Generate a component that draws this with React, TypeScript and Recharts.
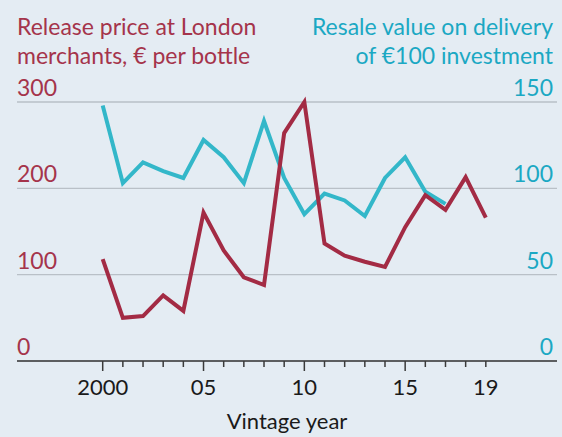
import React from 'react'
import { LineChart, Line, XAxis, YAxis, CartesianGrid } from 'recharts'

// vintage years 2000-2019
const years = [2000, 2001, 2002, 2003, 2004, 2005, 2006, 2007, 2008, 2009, 2010, 2011, 2012, 2013, 2014, 2015, 2016, 2017, 2018, 2019]
// release price at London merchants, € per bottle
const releasePrice = [118, 50, 52, 76, 58, 172, 128, 97, 88, 264, 300, 136, 122, 115, 109, 155, 192, 175, 213, 166]
// resale value on delivery of €100 investment (no data after 2017)
const resaleValue = [148, 103, 115, 110, 106, 128, 118, 103, 139, 106, 85, 97, 93, 84, 106, 118, 98, 91]

const leftTicks = [0, 100, 200, 300]
const rightTicks = [0, 50, 100, 150]
const majorYears = [2000, 2005, 2010, 2015]
const labelledYears: Record<number, string> = { 2000: '2000', 2005: '05', 2010: '10', 2015: '15', 2019: '19' }

const RED = '#a32b44'
const RED_TEXT = '#a5344b'
const BLUE = '#33b7c9'
const BLUE_TEXT = '#1ba8c3'
const BG = '#e4ecf3'
const FONT = 'Lato, "Open Sans", sans-serif'

const data = years.map((year, i) => ({
  year,
  price: releasePrice[i],
  resale: i < resaleValue.length ? resaleValue[i] : null,
}))

const LeftTick = ({ x, y, payload }: any) => (
  <text x={x} y={y - 6} textAnchor="start" fill={RED_TEXT} fontSize={23} fontFamily={FONT}>
    {payload.value}
  </text>
)

const RightTick = ({ x, y, payload }: any) => (
  <text x={x - 4} y={y - 6} textAnchor="end" fill={BLUE_TEXT} fontSize={23} fontFamily={FONT}>
    {payload.value}
  </text>
)

const YearTick = ({ x, y, payload }: any) => {
  const major = majorYears.includes(payload.value)
  const label = labelledYears[payload.value]
  return (
    <g>
      <line x1={x} x2={x} y1={y} y2={y + (major ? 10 : 6)} stroke="#3a3a3a" strokeWidth={1.5} />
      {label && (
        <text x={x} y={y + 34} textAnchor="middle" fill="#1a1a1a" fontSize={22} fontFamily={FONT}>
          {label}
        </text>
      )}
    </g>
  )
}

export default function App() {
  return (
    <div style={{ position: 'fixed', left: 0, top: 0, width: 562, height: 437, background: BG, overflow: 'hidden', fontFamily: FONT }}>
      <div style={{ position: 'absolute', left: 17, top: 12, fontSize: 23, lineHeight: '29px', color: RED_TEXT }}>
        Release price at London<br />merchants, € per bottle
      </div>
      <div style={{ position: 'absolute', right: 9, top: 12, fontSize: 23, lineHeight: '29px', color: BLUE_TEXT, textAlign: 'right' }}>
        Resale value on delivery<br />of €100 investment
      </div>
      <LineChart width={562} height={437} data={data} margin={{ top: 102, right: 4, bottom: 46, left: 16 }} style={{ position: 'absolute', left: 0, top: 0 }}>
        <CartesianGrid yAxisId="left" vertical={false} stroke="#b9c0c7" strokeWidth={1.3} />
        <XAxis
          dataKey="year"
          type="number"
          domain={[1995.75, 2022.53]}
          ticks={years}
          interval={0}
          height={30}
          tickSize={0}
          tickMargin={0}
          tickLine={false}
          tick={<YearTick />}
          axisLine={{ stroke: '#3a3a3a', strokeWidth: 1.5 }}
          label={{ value: 'Vintage year', position: 'bottom', offset: 22, fill: '#1a1a1a', fontSize: 22, fontFamily: FONT }}
        />
        <YAxis yAxisId="left" domain={[0, 300]} ticks={leftTicks} interval={0} width={1} tickSize={0} tickMargin={0} tickLine={false} axisLine={false} tick={<LeftTick />} />
        <YAxis yAxisId="right" orientation="right" domain={[0, 150]} ticks={rightTicks} interval={0} width={1} tickSize={0} tickMargin={0} tickLine={false} axisLine={false} tick={<RightTick />} />
        <Line yAxisId="right" type="linear" dataKey="resale" stroke={BLUE} strokeWidth={4} dot={false} isAnimationActive={false} />
        <Line yAxisId="left" type="linear" dataKey="price" stroke={RED} strokeWidth={4} dot={false} isAnimationActive={false} />
      </LineChart>
    </div>
  )
}
